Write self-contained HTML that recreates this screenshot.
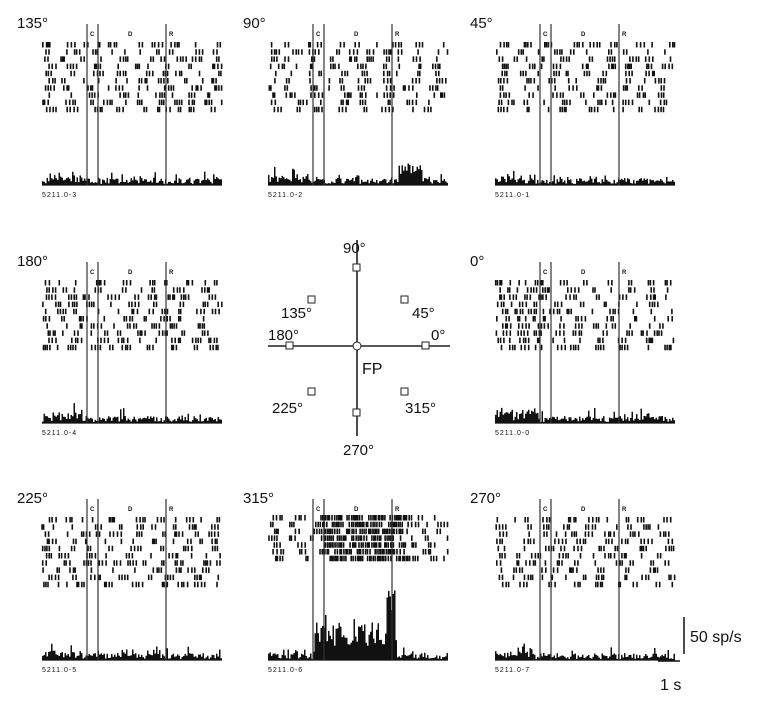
<!DOCTYPE html>
<html><head><meta charset="utf-8"><style>
html,body{margin:0;padding:0;background:#fff;width:769px;height:710px;overflow:hidden}
svg{display:block}
text{font-family:"Liberation Sans",Arial,sans-serif;fill:#111}
</style></head><body>
<svg id="s" width="769" height="710" viewBox="0 0 769 710" xmlns="http://www.w3.org/2000/svg">
<g stroke="#222" stroke-width="1.6" fill="none">
<line x1="357" y1="240" x2="357" y2="436"/>
<line x1="268" y1="346" x2="450" y2="346"/>
</g>
<g stroke="#222" stroke-width="1" fill="#fff">
<rect x="353" y="264" width="7" height="7"/>
<rect x="401" y="296" width="7" height="7"/>
<rect x="308" y="296" width="7" height="7"/>
<rect x="286" y="342" width="7" height="7"/>
<rect x="422" y="342" width="7" height="7"/>
<rect x="308" y="388" width="7" height="7"/>
<rect x="401" y="388" width="7" height="7"/>
<rect x="353" y="409" width="7" height="7"/>
<circle cx="357" cy="346" r="4"/>
</g>
<g font-size="15">
<text x="343" y="253">90°</text>
<text x="281" y="318">135°</text>
<text x="412" y="318">45°</text>
<text x="268" y="340">180°</text>
<text x="431" y="340">0°</text>
<text x="362" y="374" font-size="16">FP</text>
<text x="272" y="413">225°</text>
<text x="405" y="413">315°</text>
<text x="343" y="455">270°</text>
</g>
<g stroke="#111" stroke-width="1.5">
<line x1="684" y1="617" x2="684" y2="654"/>
<line x1="658" y1="661" x2="680" y2="661"/>
</g>
<text x="690" y="642" font-size="16">50 sp/s</text>
<text x="660" y="690" font-size="16">1 s</text>
</svg>
<script>
(function(){
var s=document.getElementById('s'),NS='http://www.w3.org/2000/svg';
var seed=12345;function r(){seed=(seed*16807)%2147483647;return seed/2147483647;}
function el(t,a,txt){var e=document.createElementNS(NS,t);for(var k in a)e.setAttribute(k,a[k]);if(txt)e.textContent=txt;s.appendChild(e);return e;}
var panels=[
["135°",0,0,"5211.0-3",0],["90°",226,0,"5211.0-2",1],["45°",453,0,"5211.0-1",0],
["180°",0,238,"5211.0-4",0],["0°",453,238,"5211.0-0",2],
["225°",0,475,"5211.0-5",0],["315°",226,475,"5211.0-6",3],["270°",453,475,"5211.0-7",0]];
panels.forEach(function(p){
var ox=p[1],oy=p[2],type=p[4];
el('text',{x:ox+17,y:oy+28,'font-size':15},p[0]);
var L=42+ox,R=222+ox,C=87+ox,D=98+ox,RR=166+ox,base=185+oy;
var rows=type==3?7:10, rowTop=type==3?40:42, sp=type==3?6.8:7.2;
var d='';
for(var i=0;i<rows;i++){
 var y=oy+rowTop+i*sp;
 var x=L+r()*8;
 while(x<R){
  var dense=(type==3&&x>C&&x<RR+8);
  var n=dense?(4+Math.floor(r()*10)):(1+Math.floor(r()*4));
  for(var k=0;k<n&&x<R;k++){
   d+='M'+x.toFixed(1)+' '+y.toFixed(1)+'v5.5';
   x+=dense?(1.2+r()*1.5):(1.5+r()*2.5);
  }
  var gap=dense?(1+r()*4):(4+r()*16);
  if(type==2&&x<C)gap=2+r()*5;
  x+=gap;
 }
}
el('path',{d:d,stroke:'#111','stroke-width':1.6,fill:'none'});
var h='M'+L+' '+base;
for(var x=L;x<R;x+=1.5){
 var v=1+r()*6+(r()<0.12?r()*9:0);
 if(x<L+40&&type!=3)v+=r()*5;
 if(type==1&&x>RR+5&&x<RR+30)v+=6+r()*12;
 if(type==2&&x<C)v+=r()*6;
 if(type==3){ if(x>C&&x<RR+5)v=14+r()*24+(r()<0.1?r()*20:0); if(x>RR-6&&x<RR+3)v+=25+r()*20; if(x<C)v=1+r()*10; }
 h+='L'+x.toFixed(1)+' '+(base-v).toFixed(1)+'L'+(x+1.5).toFixed(1)+' '+(base-v).toFixed(1);
}
h+='L'+R+' '+base+'Z';
el('path',{d:h,fill:'#111',stroke:'none'});
el('line',{x1:L,y1:base,x2:R,y2:base,stroke:'#111','stroke-width':1.2});
[C,D,RR].forEach(function(x){el('line',{x1:x,y1:oy+24,x2:x,y2:base,stroke:'#333','stroke-width':1.2});});
el('text',{x:C+3,y:oy+36,'font-size':6,'font-weight':'bold'},'C');
el('text',{x:D+30,y:oy+36,'font-size':6,'font-weight':'bold'},'D');
el('text',{x:RR+3,y:oy+36,'font-size':6,'font-weight':'bold'},'R');
el('text',{x:L,y:base+12,'font-size':7,'letter-spacing':'1'},p[3]);
});
})();
</script>
</body></html>
